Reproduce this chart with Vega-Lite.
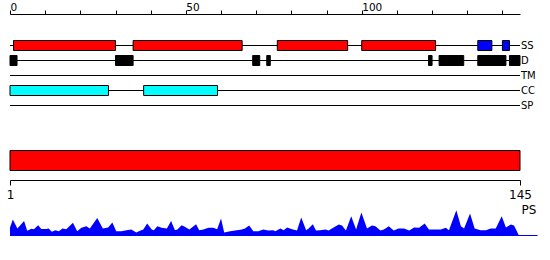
{
  "$schema": "https://vega.github.io/schema/vega-lite/v6.json",
  "bounds": "flush",
  "padding": {"left": 6, "top": 2, "right": 0, "bottom": 0},
  "background": "white",
  "spacing": 22.5,
  "resolve": {"scale": {"x": "independent", "y": "independent"}},
  "config": {"view": {"stroke": null}, "font": "DejaVu Sans"},
  "datasets": {
    "tracks": [{"track": "SS"}, {"track": "D"}, {"track": "TM"}, {"track": "CC"}, {"track": "SP"}],
    "features": [
      {"track": "SS", "kind": "helix", "start": 1, "end": 30},
      {"track": "SS", "kind": "helix", "start": 35, "end": 66},
      {"track": "SS", "kind": "helix", "start": 76, "end": 96},
      {"track": "SS", "kind": "helix", "start": 100, "end": 121},
      {"track": "SS", "kind": "strand", "start": 133, "end": 137},
      {"track": "SS", "kind": "strand", "start": 140, "end": 142},
      {"track": "D", "kind": "disorder", "start": 0, "end": 2},
      {"track": "D", "kind": "disorder", "start": 30, "end": 35},
      {"track": "D", "kind": "disorder", "start": 69, "end": 71},
      {"track": "D", "kind": "disorder", "start": 73, "end": 74},
      {"track": "D", "kind": "disorder", "start": 119, "end": 120},
      {"track": "D", "kind": "disorder", "start": 122, "end": 129},
      {"track": "D", "kind": "disorder", "start": 133, "end": 141},
      {"track": "D", "kind": "disorder", "start": 142, "end": 145},
      {"track": "CC", "kind": "coil", "start": 0, "end": 28},
      {"track": "CC", "kind": "coil", "start": 38, "end": 59}
    ],
    "protein": [{"name": "protein", "start": 1, "end": 145}],
    "pslabel": [{"label": "PS"}],
    "ps": [
      {"pos": 0, "ps": 8}, {"pos": 0.8, "ps": 16}, {"pos": 2.1, "ps": 7}, {"pos": 4.0, "ps": 14.6},
      {"pos": 4.9, "ps": 4.7}, {"pos": 6.1, "ps": 6.7}, {"pos": 6.8, "ps": 6.3}, {"pos": 8.0, "ps": 10.3},
      {"pos": 8.9, "ps": 6.6}, {"pos": 10.3, "ps": 6.6}, {"pos": 11.0, "ps": 7}, {"pos": 11.9, "ps": 3.7},
      {"pos": 12.9, "ps": 5.3}, {"pos": 13.9, "ps": 4.3}, {"pos": 14.9, "ps": 7}, {"pos": 16.0, "ps": 6.3},
      {"pos": 17.9, "ps": 12.7}, {"pos": 19.1, "ps": 4.3}, {"pos": 20.3, "ps": 7.7}, {"pos": 21.7, "ps": 9.3},
      {"pos": 22.7, "ps": 7}, {"pos": 24.8, "ps": 17.6}, {"pos": 26.4, "ps": 7}, {"pos": 27.9, "ps": 8},
      {"pos": 29.1, "ps": 13}, {"pos": 30.2, "ps": 4.3}, {"pos": 31.7, "ps": 4.3}, {"pos": 33.1, "ps": 5.3},
      {"pos": 34.5, "ps": 6}, {"pos": 35.9, "ps": 3}, {"pos": 37.3, "ps": 5.3}, {"pos": 37.9, "ps": 6},
      {"pos": 39.0, "ps": 12}, {"pos": 40.3, "ps": 6}, {"pos": 40.9, "ps": 5.3}, {"pos": 41.9, "ps": 9.3},
      {"pos": 43.1, "ps": 7.7}, {"pos": 44.6, "ps": 7}, {"pos": 45.8, "ps": 14.6}, {"pos": 46.9, "ps": 5.3},
      {"pos": 47.6, "ps": 6}, {"pos": 48.8, "ps": 10.3}, {"pos": 49.8, "ps": 8.6}, {"pos": 51.0, "ps": 6},
      {"pos": 52.9, "ps": 11.3}, {"pos": 53.8, "ps": 5.3}, {"pos": 55.0, "ps": 6}, {"pos": 56.4, "ps": 7.7},
      {"pos": 57.8, "ps": 7.7}, {"pos": 58.9, "ps": 6.3}, {"pos": 60.0, "ps": 17}, {"pos": 60.9, "ps": 3},
      {"pos": 62.6, "ps": 4.3}, {"pos": 64.5, "ps": 5.3}, {"pos": 65.9, "ps": 6}, {"pos": 66.8, "ps": 7},
      {"pos": 68.0, "ps": 10}, {"pos": 69.2, "ps": 4.3}, {"pos": 70.6, "ps": 4.3}, {"pos": 72.0, "ps": 6},
      {"pos": 73.4, "ps": 5}, {"pos": 74.9, "ps": 5.3}, {"pos": 75.4, "ps": 4.3}, {"pos": 76.9, "ps": 7},
      {"pos": 77.8, "ps": 5.3}, {"pos": 78.8, "ps": 8}, {"pos": 80.2, "ps": 6.3}, {"pos": 81.6, "ps": 5},
      {"pos": 82.8, "ps": 18}, {"pos": 84.2, "ps": 5.3}, {"pos": 84.9, "ps": 7}, {"pos": 86.1, "ps": 11.3},
      {"pos": 87.0, "ps": 5}, {"pos": 88.2, "ps": 5.3}, {"pos": 89.7, "ps": 6}, {"pos": 90.6, "ps": 5},
      {"pos": 92.0, "ps": 8}, {"pos": 93.5, "ps": 11}, {"pos": 94.4, "ps": 10}, {"pos": 95.5, "ps": 5},
      {"pos": 97.0, "ps": 19.3}, {"pos": 98.4, "ps": 6}, {"pos": 99.9, "ps": 23}, {"pos": 101.5, "ps": 7},
      {"pos": 102.9, "ps": 10}, {"pos": 103.9, "ps": 9.3}, {"pos": 105.3, "ps": 5}, {"pos": 106.3, "ps": 6},
      {"pos": 107.7, "ps": 9.3}, {"pos": 109.1, "ps": 5}, {"pos": 110.5, "ps": 7}, {"pos": 112.0, "ps": 7},
      {"pos": 113.5, "ps": 5}, {"pos": 114.9, "ps": 8}, {"pos": 116.3, "ps": 7.7}, {"pos": 117.9, "ps": 12},
      {"pos": 119.1, "ps": 6}, {"pos": 121.0, "ps": 6}, {"pos": 122.5, "ps": 6}, {"pos": 123.9, "ps": 7.7},
      {"pos": 124.8, "ps": 5.3}, {"pos": 126.9, "ps": 25.3}, {"pos": 128.2, "ps": 9.3}, {"pos": 129.1, "ps": 7},
      {"pos": 130.8, "ps": 22}, {"pos": 132.1, "ps": 7}, {"pos": 133.8, "ps": 5.3}, {"pos": 135.3, "ps": 5.3},
      {"pos": 136.7, "ps": 7}, {"pos": 138.1, "ps": 7}, {"pos": 139.8, "ps": 19.3}, {"pos": 141.0, "ps": 8},
      {"pos": 142.4, "ps": 11}, {"pos": 143.3, "ps": 10}, {"pos": 144.7, "ps": 0}
    ]
  },
  "vconcat": [
    {
      "width": 510,
      "height": 105,
      "encoding": {
        "y": {"field": "track", "type": "nominal", "scale": {"type": "band", "domain": ["SS", "D", "TM", "CC", "SP"], "paddingInner": 0, "paddingOuter": 1}, "axis": null}
      },
      "layer": [
        {
          "data": {"name": "tracks"},
          "mark": {"type": "rule", "color": "black", "strokeWidth": 1},
          "encoding": {
            "x": {"datum": 0, "type": "quantitative", "scale": {"domain": [0, 145], "nice": false, "zero": false},
              "axis": {"orient": "top", "title": null, "tickCount": 15, "offset": 9,
                "labelExpr": "datum.value % 50 === 0 ? datum.label : ''", "labelAlign": "left", "labelBaseline": "alphabetic",
                "tickSize": 4, "labelPadding": -0.5, "labelFontSize": 10.5, "labelColor": "black", "labelFont": "DejaVu Sans",
                "domainColor": "black", "tickColor": "black", "grid": false, "labelFlush": false, "labelOverlap": false}},
            "x2": {"datum": 145}
          }
        },
        {
          "data": {"name": "features"},
          "mark": {"type": "bar", "height": 10, "stroke": "black", "strokeWidth": 1},
          "encoding": {
            "x": {"field": "start", "type": "quantitative",
              "axis": {"orient": "top", "title": null, "tickCount": 15, "offset": 9,
                "labelExpr": "datum.value % 50 === 0 ? datum.label : ''", "labelAlign": "left", "labelBaseline": "alphabetic",
                "tickSize": 4, "labelPadding": -0.5, "labelFontSize": 10.5, "labelColor": "black", "labelFont": "DejaVu Sans",
                "domainColor": "black", "tickColor": "black", "grid": false, "labelFlush": false, "labelOverlap": false}},
            "x2": {"field": "end"},
            "color": {"field": "kind", "type": "nominal", "legend": null,
              "scale": {"domain": ["helix", "strand", "disorder", "coil"], "range": ["#ff0000", "#0000ff", "#000000", "#00ffff"]}}
          }
        },
        {
          "data": {"name": "tracks"},
          "mark": {"type": "text", "align": "left", "baseline": "middle", "dx": 1, "fontSize": 10, "font": "DejaVu Sans", "color": "black"},
          "encoding": {
            "x": {"datum": 145, "type": "quantitative"},
            "text": {"field": "track"}
          }
        }
      ]
    },
    {
      "width": 510,
      "height": 20,
      "data": {"name": "protein"},
      "mark": {"type": "bar", "color": "#ff0000", "stroke": "black", "strokeWidth": 1},
      "encoding": {
        "y": {"field": "name", "type": "nominal", "scale": {"type": "band", "paddingInner": 0, "paddingOuter": 0}, "axis": null},
        "x": {"field": "start", "type": "quantitative", "scale": {"domain": [1, 145], "nice": false, "zero": false},
          "axis": {"orient": "bottom", "title": null, "values": [1, 145], "offset": 9.5, "tickSize": 5, "labelPadding": 4,
            "labelFontSize": 12, "labelColor": "black", "labelFont": "DejaVu Sans", "domainColor": "black", "tickColor": "black",
            "grid": false, "labelFlush": false, "labelOverlap": false}},
        "x2": {"field": "end"}
      }
    },
    {
      "width": 510,
      "height": 42.5,
      "layer": [
        {
          "data": {"name": "ps"},
          "mark": {"type": "area", "color": "#0000ff", "interpolate": "linear"},
          "encoding": {
            "x": {"field": "pos", "type": "quantitative", "scale": {"domain": [0, 145], "nice": false, "zero": false}, "axis": null},
            "y": {"field": "ps", "type": "quantitative", "scale": {"domain": [0, 42.5], "nice": false}, "axis": null}
          }
        },
        {
          "data": {"name": "pslabel"},
          "mark": {"type": "rule", "color": "#0000ff", "strokeWidth": 1},
          "encoding": {
            "x": {"datum": 0, "type": "quantitative"},
            "x2": {"datum": 150},
            "y": {"datum": 0, "type": "quantitative"}
          }
        },
        {
          "data": {"name": "pslabel"},
          "mark": {"type": "text", "align": "left", "baseline": "middle", "dx": 1.5, "fontSize": 12, "font": "DejaVu Sans", "color": "black"},
          "encoding": {
            "x": {"datum": 145, "type": "quantitative"},
            "y": {"datum": 25.5, "type": "quantitative"},
            "text": {"field": "label"}
          }
        }
      ]
    }
  ]
}
